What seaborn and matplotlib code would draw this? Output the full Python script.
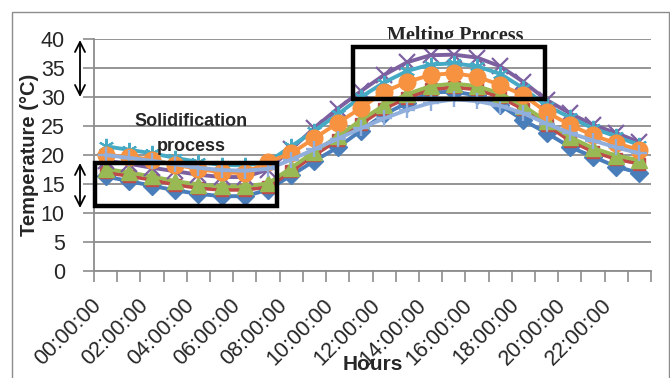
import matplotlib
matplotlib.use("Agg")
import matplotlib.pyplot as plt
from matplotlib.patches import Rectangle
import numpy as np
import pandas as pd
import seaborn as sns

# Hourly temperatures (°C) for the seven monitored cases
hours = list(range(24))
hour_labels = [f"{h:02d}:00:00" for h in range(0, 24, 2)]

case1 = [16.3, 15.5, 14.7, 13.9, 13.3, 12.9, 12.9, 14.0, 16.5, 19.0, 21.3, 24.2,
         27.0, 29.0, 30.8, 30.9, 30.3, 28.6, 26.0, 23.8, 21.4, 19.7, 18.0, 16.9]
case2 = [17.0, 16.4, 15.7, 14.9, 14.3, 14.0, 14.0, 14.5, 17.2, 20.0, 22.6, 25.4,
         28.0, 29.9, 31.3, 31.7, 31.3, 30.0, 27.9, 25.2, 22.5, 20.6, 19.3, 18.5]
case3 = [17.6, 17.0, 16.3, 15.5, 14.9, 14.6, 14.6, 15.1, 17.8, 20.6, 23.2, 26.0,
         28.6, 30.5, 31.9, 32.3, 31.9, 30.6, 28.5, 25.8, 23.1, 21.2, 19.9, 19.1]
case4 = [19.0, 18.5, 17.8, 17.2, 16.6, 16.2, 16.2, 17.5, 21.0, 24.7, 28.0, 31.0,
         33.8, 36.0, 37.2, 37.3, 36.8, 35.3, 32.6, 29.5, 27.2, 25.2, 23.8, 22.2]
case5 = [21.5, 20.9, 20.3, 19.5, 18.8, 18.3, 18.2, 18.8, 21.5, 24.2, 27.0, 30.0,
         32.5, 34.5, 35.6, 35.8, 35.3, 34.0, 31.5, 28.5, 26.5, 24.6, 23.2, 21.7]
case6 = [20.0, 19.7, 19.2, 18.3, 17.6, 17.0, 16.9, 18.8, 20.3, 22.9, 25.5, 28.1,
         30.9, 32.6, 33.8, 34.1, 33.5, 32.1, 30.3, 27.4, 25.2, 23.4, 22.0, 20.9]
case7 = [20.0, 19.5, 19.0, 18.4, 17.8, 17.4, 17.3, 17.6, 19.2, 21.0, 22.8, 24.6,
         26.3, 27.8, 29.0, 29.6, 29.3, 28.5, 27.2, 25.4, 23.8, 22.5, 21.3, 20.3]

series = {"case1": case1, "case2": case2, "case3": case3, "case4": case4,
          "case5": case5, "case6": case6, "case7": case7}

styles = {
    "case1": dict(color="#4A7EBB", marker="D", markersize=9.5, mew=1),
    "case2": dict(color="#BE4B48", marker="s", markersize=8.5, mew=1),
    "case3": dict(color="#98B954", marker="^", markersize=11.5, mew=1),
    "case4": dict(color="#7D60A0", marker="x", markersize=11, mew=1.6),
    "case5": dict(color="#46AAC5", marker=(6, 2, 0), markersize=11, mew=1.5),
    "case6": dict(color="#F69240", marker="o", markersize=12, mew=1),
    "case7": dict(color="#91AFDD", marker="+", markersize=11, mew=1.7),
}

df = pd.DataFrame({"hour": hours * len(series),
                   "temp": sum(series.values(), []),
                   "case": np.repeat(list(series.keys()), len(hours))})

sns.set_style("white")
plt.rcParams["font.family"] = ["Liberation Sans", "DejaVu Sans"]

grey = "#8C8C8C"
fig = plt.figure(figsize=(6.7, 3.78), dpi=100)
ax = fig.add_axes([94 / 670, 1 - 271 / 378, 557 / 670, 232 / 378])

for name in series:
    st = styles[name]
    sns.lineplot(data=df[df["case"] == name], x="hour", y="temp", ax=ax,
                 color=st["color"], lw=2.8, marker=st["marker"],
                 markersize=st["markersize"], markeredgecolor=st["color"],
                 markerfacecolor=st["color"], markeredgewidth=st["mew"],
                 legend=False)

ax.set_xlim(-0.5, 23.5)
ax.set_ylim(0, 40)
ax.set_yticks(np.arange(0, 41, 5))
ax.yaxis.grid(True, color=grey, lw=1.3)
ax.set_axisbelow(True)

ax.set_xticks(np.arange(-0.5, 24, 1))
ax.set_xticklabels([])
ax.set_xticks(np.arange(0, 24, 2), minor=True)
ax.set_xticklabels(hour_labels, minor=True, rotation=45, ha="right", va="top")
ax.tick_params(axis="x", which="major", direction="out", length=8, width=1.2,
               color=grey, bottom=True)
ax.tick_params(axis="x", which="minor", length=0, pad=17, labelsize=15.5)
ax.tick_params(axis="y", direction="out", length=8, width=1.2, color=grey,
               left=True, pad=13, labelsize=15.5)

for side in ("top", "right"):
    ax.spines[side].set_visible(False)
for side in ("left", "bottom"):
    ax.spines[side].set_color(grey)
    ax.spines[side].set_linewidth(1.3)

ax.set_xlabel("Hours", fontsize=15, fontweight="bold")
ax.xaxis.label.set_va("center")
ax.xaxis.set_label_coords(0.5, -0.405)
ax.set_ylabel("Temperature (°C)", fontsize=14.5, fontweight="bold")
ax.yaxis.label.set_va("center")
ax.yaxis.set_label_coords(-0.115, 0.5)

# Phase-change boxes
ax.add_patch(Rectangle((-0.46, 11.2), 7.85, 7.4, fill=False, ec="black",
                       lw=3.2, clip_on=False, zorder=10))
ax.add_patch(Rectangle((10.66, 29.7), 8.28, 8.9, fill=False, ec="black",
                       lw=3.2, clip_on=False, zorder=10))

# Double arrows marking the temperature ranges
for y0, y1 in ((338, 281), (215, 170)):
    ax.annotate("", xy=(80 / 670, y0 / 378), xytext=(80 / 670, y1 / 378),
                xycoords="figure fraction", textcoords="figure fraction",
                arrowprops=dict(arrowstyle="<->", lw=1.3, color="black",
                                mutation_scale=18, shrinkA=0, shrinkB=0))

fig.text(191 / 670, 1 - 122 / 378, "Solidification", ha="center", va="center",
         fontsize=13, fontweight="bold")
fig.text(191 / 670, 1 - 147 / 378, "process", ha="center", va="center",
         fontsize=13, fontweight="bold")
fig.text(455 / 670, 1 - 40.5 / 378, "Melting Process", ha="center",
         va="baseline", fontsize=14.5, fontweight="bold",
         family=["Liberation Serif", "DejaVu Serif"], zorder=-1)

fig.add_artist(Rectangle((12 / 670, -0.05), 657 / 670, 366 / 378 + 0.05,
                         transform=fig.transFigure, fill=False, ec=grey, lw=1))

fig.savefig("out.png", dpi=100)
